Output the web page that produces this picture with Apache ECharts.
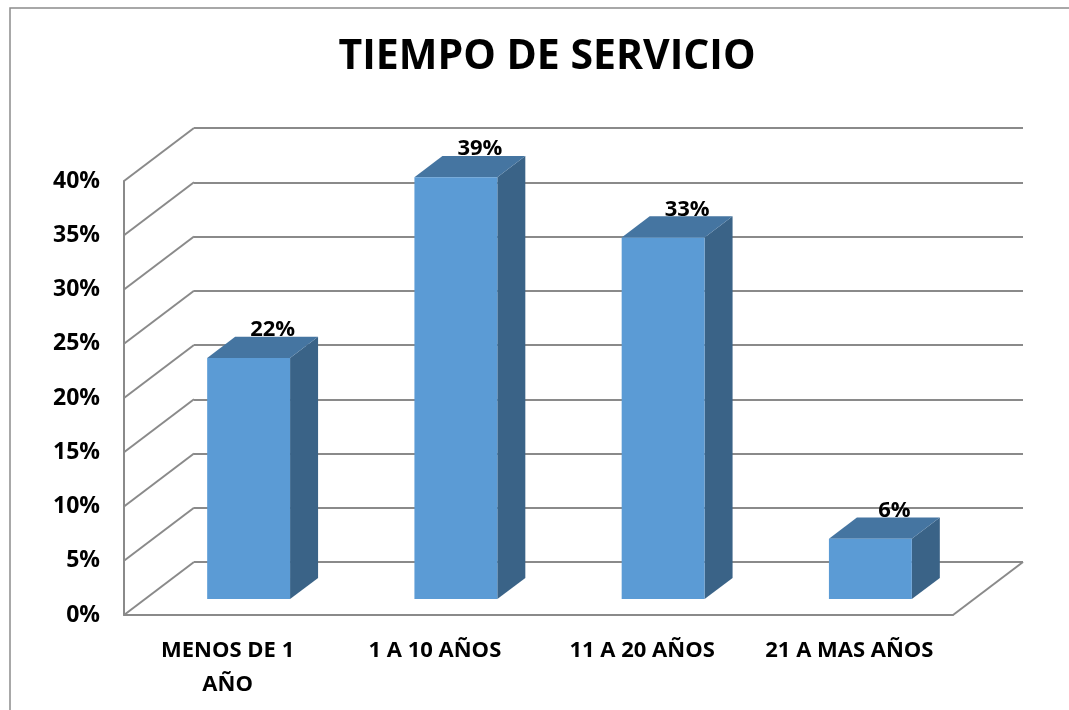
<!DOCTYPE html>
<html>
<head>
<meta charset="utf-8">
<script src="https://cdn.jsdelivr.net/npm/echarts@6/dist/echarts.min.js"></script>
<style>html,body{margin:0;padding:0;background:#fff}#c{width:1069px;height:710px}</style>
</head>
<body>
<div id="c"></div>
<script>
const title = 'TIEMPO DE SERVICIO';
const categories = ['MENOS DE 1\nAÑO', '1 A 10 AÑOS', '11 A 20 AÑOS', '21 A MAS AÑOS'];
const values = [22.22, 38.89, 33.33, 5.56];
const yTicks = [0, 5, 10, 15, 20, 25, 30, 35, 40];

const DX = 70, DY = -53;          // depth offset of the back wall
const FRONT = 0.3, DEPTH = 0.4;   // bar position and depth as fractions of wall depth
const GRID_COLOR = '#8a8a8a';
const FONT = '"Open Sans"';

const chart = echarts.init(document.getElementById('c'), null, {renderer: 'canvas'});

const option = {
  animation: false,
  backgroundColor: '#fff',
  title: {
    text: title, left: 542, textAlign: 'center', top: 32,
    textStyle: {fontFamily: FONT, fontWeight: 'bold', fontSize: 41, color: '#000'}
  },
  graphic: [{
    type: 'rect', shape: {x: 10, y: 8, width: 1200, height: 900},
    style: {fill: 'none', stroke: '#8c8c8c', lineWidth: 1.5}, z: -10
  }],
  grid: [
    {left: 124, right: 116, top: 181, bottom: 95},
    {left: 124 + DX, right: 116 - DX, top: 181 + DY, bottom: 95 - DY}
  ],
  xAxis: [
    {type: 'category', gridIndex: 0, data: categories,
     axisLine: {show: true, lineStyle: {color: GRID_COLOR, width: 2}},
     axisTick: {show: false},
     axisLabel: {interval: 0, hideOverlap: false, margin: 19, fontFamily: FONT, fontWeight: 'bold',
                 fontSize: 22, color: '#000', lineHeight: 34}},
    {type: 'category', gridIndex: 1, data: categories,
     axisLine: {show: false}, axisTick: {show: false}, axisLabel: {show: false}}
  ],
  yAxis: [
    {type: 'value', gridIndex: 0, min: 0, max: 40, interval: 5,
     axisLine: {show: true, lineStyle: {color: GRID_COLOR, width: 2}},
     axisTick: {show: false}, splitLine: {show: false},
     axisLabel: {margin: 24, fontFamily: FONT, fontWeight: 'bold', fontSize: 23, color: '#000',
                 formatter: v => yTicks.includes(v) ? v + '%' : ''}},
    {type: 'value', gridIndex: 1, min: 0, max: 40, interval: 5,
     axisLine: {show: false}, axisTick: {show: false}, axisLabel: {show: false},
     splitLine: {show: true, lineStyle: {color: GRID_COLOR, width: 2}}}
  ],
  series: [
    {
      // side-wall diagonals and floor right edge
      type: 'custom', xAxisIndex: 0, yAxisIndex: 0, silent: true, z: 1,
      data: yTicks.map(t => [0, t]),
      renderItem: (params, api) => {
        const t = api.value(1);
        const p = api.coord([0, t]);
        const band = api.size([1, 0])[0];
        const x = p[0] - band / 2;
        const children = [{
          type: 'line', shape: {x1: x, y1: p[1], x2: x + DX, y2: p[1] + DY},
          style: {stroke: GRID_COLOR, lineWidth: 2}
        }];
        if (t === 0) {
          const xr = x + band * categories.length;
          children.push({
            type: 'line', shape: {x1: xr, y1: p[1], x2: xr + DX, y2: p[1] + DY},
            style: {stroke: GRID_COLOR, lineWidth: 2}
          });
        }
        return {type: 'group', children};
      }
    },
    {
      type: 'custom', xAxisIndex: 0, yAxisIndex: 0, z: 5,
      data: values.map((v, i) => [i, v]),
      renderItem: (params, api) => {
        const i = api.value(0), v = api.value(1);
        const base = api.coord([i, 0]);
        const top = api.coord([i, v]);
        const band = api.size([1, 0])[0];
        const w = band * 0.4;
        const ox = DX * FRONT, oy = DY * FRONT;
        const dx = DX * DEPTH, dy = DY * DEPTH;
        const x0 = base[0] - w / 2 + ox, x1 = x0 + w;
        const yb = base[1] + oy, yt = top[1] + oy;
        return {type: 'group', children: [
          {type: 'polygon', shape: {points: [[x1, yb], [x1 + dx, yb + dy], [x1 + dx, yt + dy], [x1, yt]]},
           style: {fill: '#3a6387'}},
          {type: 'polygon', shape: {points: [[x0, yt], [x1, yt], [x1 + dx, yt + dy], [x0 + dx, yt + dy]]},
           style: {fill: '#4575a1'}},
          {type: 'rect', shape: {x: x0, y: yt, width: w, height: yb - yt},
           style: {fill: '#5b9bd5'}},
          {type: 'text', style: {text: Math.round(v) + '%', x: (x0 + x1) / 2 + 24, y: yt + dy + 4,
            align: 'center', verticalAlign: 'bottom',
            font: 'bold 22px ' + FONT, fill: '#000'}}
        ]};
      }
    }
  ]
};
chart.setOption(option);
</script>
</body>
</html>
